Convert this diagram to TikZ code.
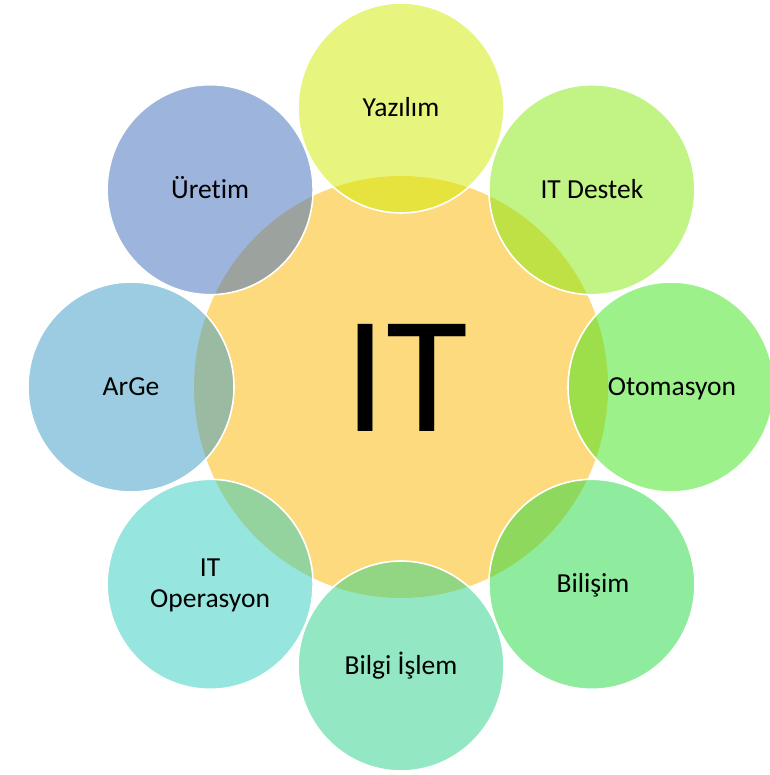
\documentclass[tikz,border=0pt]{standalone}
\usepackage{fontspec}
\setmainfont[Ligatures=NoCommon]{Carlito}
\usetikzlibrary{shapes.geometric}
\definecolor{cCenter}{RGB}{253,218,126}
\definecolor{cYaz}{RGB}{209,237,1}
\definecolor{cDes}{RGB}{133,233,13}
\definecolor{cOto}{RGB}{61,229,25}
\definecolor{cBil}{RGB}{33,217,61}
\definecolor{cBis}{RGB}{41,211,137}
\definecolor{cOpe}{RGB}{47,205,191}
\definecolor{cArg}{RGB}{57,155,199}
\definecolor{cUre}{RGB}{61,107,189}
\begin{document}
\begin{tikzpicture}[x=1pt,y=1pt,
  petal/.style={ellipse, minimum width=206pt, minimum height=210pt, inner sep=0pt,
    fill=#1, fill opacity=0.5, draw=white, line width=1.6pt},
  hub/.style={ellipse, minimum width=414pt, minimum height=422pt, inner sep=0pt,
    fill=cCenter},
  lbl/.style={anchor=base, inner sep=0pt, text=black, font=\fontsize{27.5}{32}\selectfont}
]
\fill[white] (0,0) rectangle (769,775);
\useasboundingbox (0,0) rectangle (769,775);

\node[hub] (hub) at (401,388) {};

\node[petal=cYaz] (yaz) at (401,667) {};
\node[petal=cDes] (des) at (591.9,585.3) {};
\node[petal=cOto] (oto) at (671,388) {};
\node[petal=cBil] (bil) at (591.9,190.7) {};
\node[petal=cBis] (bis) at (401,109) {};
\node[petal=cOpe] (ope) at (210.1,190.7) {};
\node[petal=cArg] (arg) at (131,388) {};
\node[petal=cUre] (ure) at (210.1,585.3) {};

\node[lbl] (tyaz) at (401,658.3) {Yazılım};
\node[lbl] (tdes) at (591.9,576.6) {IT Destek};
\node[lbl] (toto) at (672,379.3) {Otomasyon};
\node[lbl] (tbil) at (593,182) {Bilişim};
\node[lbl] (tbis) at (401,100.3) {Bilgi İşlem};
\node[lbl] (topeA) at (210.1,198) {IT};
\node[lbl] (topeB) at (210.1,167) {Operasyon};
\node[lbl] (targ) at (131,379.3) {ArGe};
\node[lbl] (ture) at (210.1,576.6) {Üretim};

\node[anchor=base, inner sep=0pt, font=\fontsize{167}{170}\selectfont] (it) at (406,343) {IT};
\end{tikzpicture}
\end{document}
